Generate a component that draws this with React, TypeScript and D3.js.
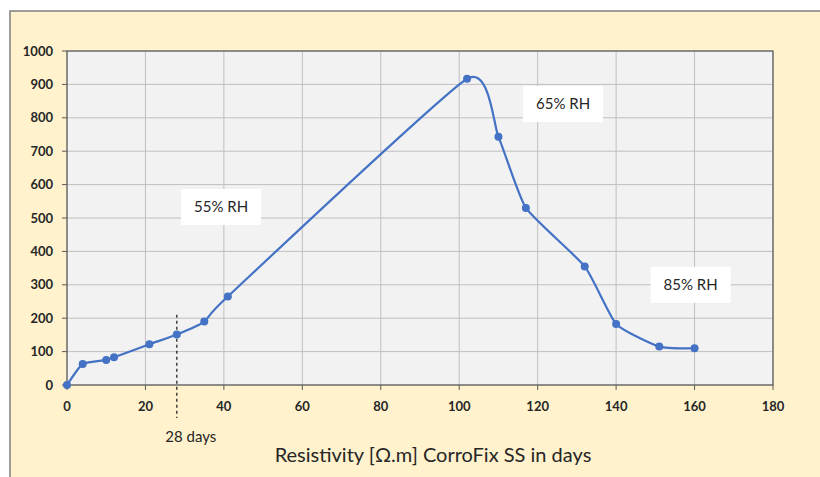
import React from "react";
import * as d3 from "d3";

const days = [0, 4, 10, 12, 21, 28, 35, 41, 102, 110, 117, 132, 140, 151, 160];
const resistivity = [0, 63, 75, 83, 122, 151, 190, 265, 917, 743, 530, 355, 183, 115, 110];
const xTicks = [0, 20, 40, 60, 80, 100, 120, 140, 160, 180];
const yTicks = [0, 100, 200, 300, 400, 500, 600, 700, 800, 900, 1000];
const rhLabels = [
  { text: "55% RH", x: 39.3, y: 533 },
  { text: "65% RH", x: 126.5, y: 841 },
  { text: "85% RH", x: 159, y: 300 },
];
const markerDay = 28;
const markerLabel = "28 days";
const xTitle = "Resistivity [Ω.m] CorroFix SS in days";

const W = 820;
const H = 477;
const L = 67, T = 51, R = 773, B = 385;

export default function App() {
  const x = d3.scaleLinear().domain([0, 180]).range([L, R]);
  const y = d3.scaleLinear().domain([0, 1000]).range([B, T]);
  const pts: [number, number][] = days.map((d, i) => [x(d), y(resistivity[i])]);
  const line = d3.line().curve(d3.curveCardinal.tension(0.5));
  const font = "Lato, 'Open Sans', sans-serif";
  const blue = "#4472c4";
  return (
    <svg width={W} height={H} style={{ position: "absolute", left: 0, top: 0 }}>
      <rect x={0} y={0} width={W} height={H} fill="#ffffff" />
      <rect x={10} y={11} width={W + 20} height={H + 20} fill="#fff2cc" stroke="#7f7f7f" strokeWidth={1.5} />
      <rect x={L} y={T} width={R - L} height={B - T} fill="#f2f2f2" />
      {xTicks.map((t) => (
        <line key={"gx" + t} x1={x(t)} x2={x(t)} y1={T} y2={B} stroke="#bfbfbf" strokeWidth={1} />
      ))}
      {yTicks.map((t) => (
        <line key={"gy" + t} x1={L} x2={R} y1={y(t)} y2={y(t)} stroke="#bfbfbf" strokeWidth={1} />
      ))}
      <rect x={L} y={T} width={R - L} height={B - T} fill="none" stroke="#595959" strokeWidth={1.2} />
      {xTicks.map((t) => (
        <g key={"tx" + t}>
          <line x1={x(t)} x2={x(t)} y1={B} y2={B + 5} stroke="#595959" strokeWidth={1} />
          <text x={x(t)} y={B + 26} textAnchor="middle" fontFamily={font} fontWeight="bold" fontSize={13} fill="#262626">
            {t}
          </text>
        </g>
      ))}
      {yTicks.map((t) => (
        <g key={"ty" + t}>
          <line x1={L - 5} x2={L} y1={y(t)} y2={y(t)} stroke="#595959" strokeWidth={1} />
          <text x={L - 14} y={y(t) + 4.5} textAnchor="end" fontFamily={font} fontWeight="bold" fontSize={13} fill="#262626">
            {t}
          </text>
        </g>
      ))}
      {rhLabels.map((l) => (
        <g key={l.text}>
          <rect x={x(l.x) - 40} y={y(l.y) - 18} width={80} height={36} fill="#ffffff" />
          <text x={x(l.x)} y={y(l.y) + 5} textAnchor="middle" fontFamily={font} fontSize={15} fill="#262626">
            {l.text}
          </text>
        </g>
      ))}
      <line x1={x(markerDay)} x2={x(markerDay)} y1={y(210)} y2={B + 33} stroke="#262626" strokeWidth={1.3} strokeDasharray="3,3" />
      <text x={x(markerDay) + 14} y={B + 57} textAnchor="middle" fontFamily={font} fontSize={15} fill="#262626">
        {markerLabel}
      </text>
      <path d={line(pts) || ""} fill="none" stroke={blue} strokeWidth={2.2} />
      {pts.map((p, i) => (
        <circle key={i} cx={p[0]} cy={p[1]} r={4} fill={blue} />
      ))}
      <text x={433} y={462} textAnchor="middle" fontFamily={font} fontSize={20} fill="#262626">
        {xTitle}
      </text>
    </svg>
  );
}
